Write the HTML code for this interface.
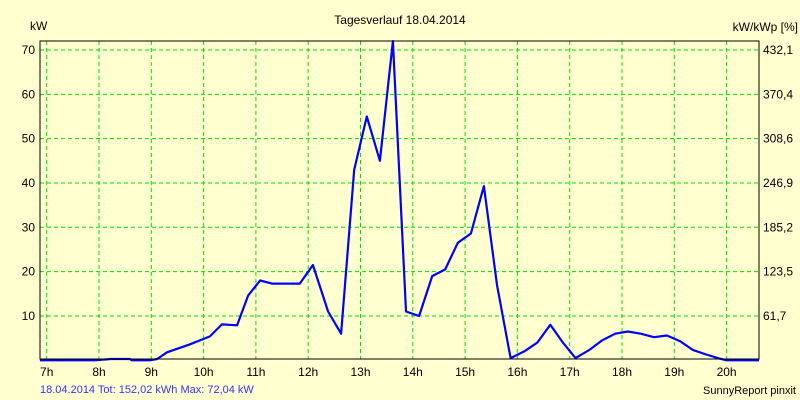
<!DOCTYPE html>
<html><head><meta charset="utf-8"><style>
body{margin:0;background:#ffffd0;}
svg{display:block;font-family:"Liberation Sans",Arial,sans-serif;}
</style></head><body>
<svg id="chart" width="800" height="400" viewBox="0 0 800 400">
<rect x="0" y="0" width="800" height="400" fill="#ffffd0"/>
<text x="400" y="24" font-size="12" text-anchor="middle" fill="#000">Tagesverlauf 18.04.2014</text>
<text x="30" y="30" font-size="12" fill="#000">kW</text>
<text x="798" y="31" font-size="12" text-anchor="end" fill="#000">kW/kWp [%]</text>
<g id="grid"></g>
<g id="series"></g>
<rect x="40" y="41" width="719" height="318" fill="none" stroke="#000" stroke-width="1"/>
<g id="ticks"></g>
<text x="40" y="393" font-size="11" fill="#3333ff">18.04.2014 Tot: 152,02 kWh Max: 72,04 kW</text>
<text x="796" y="394" font-size="11" text-anchor="end" fill="#000">SunnyReport pinxit</text>
</svg>
<script>
const hourTicks=[7,8,9,10,11,12,13,14,15,16,17,18,19,20];
const hourLabels=["7h","8h","9h","10h","11h","12h","13h","14h","15h","16h","17h","18h","19h","20h"];
const kwTicks=[10,20,30,40,50,60,70];
const kwpLabels=["61,7","123,5","185,2","246,9","308,6","370,4","432,1"];
const times=[6.87,7.92,8.23,8.59,8.63,8.97,9.11,9.3,9.74,10.12,10.35,10.64,10.85,11.08,11.31,11.84,12.09,12.38,12.63,12.88,13.12,13.37,13.62,13.87,14.12,14.37,14.62,14.86,15.11,15.36,15.61,15.87,16.13,16.38,16.63,16.87,17.11,17.37,17.62,17.87,18.11,18.36,18.61,18.86,19.11,19.36,19.61,19.86,20.0,20.62];
const power=[0,0,0.3,0.3,0,0,0.3,1.8,3.6,5.4,8.1,7.9,14.6,18,17.3,17.3,21.5,11,6,43,55,45,72,11,10,19,20.5,26.5,28.6,39.3,17,0.5,2,4,8,4,0.5,2.3,4.5,6,6.5,6,5.2,5.6,4.3,2.3,1.3,0.4,0,0];
const NS="http://www.w3.org/2000/svg";
const X=h=>46.7+(h-7)*52.3;
const Y=v=>360.3-v*4.433;
const grid=document.getElementById('grid'),ticks=document.getElementById('ticks'),series=document.getElementById('series');
function mk(tag,attrs,parent){const e=document.createElementNS(NS,tag);for(const k in attrs)e.setAttribute(k,attrs[k]);parent.appendChild(e);return e;}
hourTicks.forEach((h,i)=>{
  const l=mk('line',{x1:X(h),x2:X(h),y1:41,y2:359,stroke:'#00e000','stroke-dasharray':'4,3'},grid);
  
  
  const t=mk('text',{x:X(h),y:376,'font-size':12,'text-anchor':'middle',fill:'#000'},ticks);
  t.textContent=hourLabels[i];
  
  
});
kwTicks.forEach((v,i)=>{
  const l=mk('line',{x1:40,x2:759,y1:Y(v),y2:Y(v),stroke:'#00e000','stroke-dasharray':'4,3'},grid);
  
  
  const t=mk('text',{x:35,y:Y(v)+4,'font-size':12,'text-anchor':'end',fill:'#000'},ticks);
  t.textContent=String(v);
  
  
  const r=mk('text',{x:763,y:Y(v)+4,'font-size':12,fill:'#000'},ticks);
  r.textContent=kwpLabels[i];
  
  
});
const pts=times.map((t,i)=>X(t).toFixed(1)+','+Math.max(41,Y(power[i])).toFixed(1)).join(' ');
const pl=mk('polyline',{points:pts,fill:'none',stroke:'#0000ff','stroke-width':2.2,'stroke-linejoin':'round'},series);


</script>
</body></html>
